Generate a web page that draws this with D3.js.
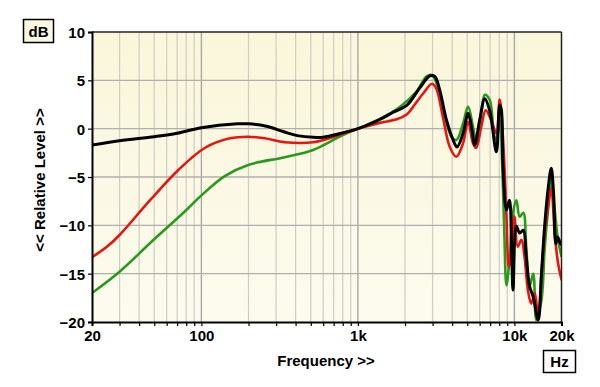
<!DOCTYPE html>
<html><head><meta charset="utf-8">
<script src="https://cdn.jsdelivr.net/npm/d3@7"></script>
<style>html,body{margin:0;padding:0;background:#fff;}svg{display:block;}</style>
</head><body>
<svg id="c" width="600" height="387"></svg>
<script>
// ---- data ----
const xTickValues = [20, 100, 1000, 10000, 20000];
const xTickLabels = ["20", "100", "1k", "10k", "20k"];
const yTickValues = [-20, -15, -10, -5, 0, 5, 10];

const greenFreq = [20,30,48,78,100,141,199,341,518,767,1000,1380,1870,2360,2740,2970,3240,3600,3960,4260,4700,5060,5440,5700,6140,6470,6950,7500,7900,8100,8340,8600,8900,9300,9800,10300,10800,11400,11900,12500,13200,13800,14900,15600,16400,17200,18100,19000,20000];
const greenDb = [-17.0,-14.8,-11.7,-8.6,-6.9,-4.9,-3.75,-2.95,-2.2,-0.83,0.0,1.0,2.3,3.8,5.4,5.55,4.35,1.24,-0.83,-1.17,0.55,2.3,0.2,-1.17,1.6,3.5,3.0,-1.17,-0.13,0.9,-3.2,-10.1,-16.2,-13.6,-8.7,-7.4,-9.1,-8.7,-12.2,-16.3,-15,-19.8,-17.7,-12.5,-8.4,-5.3,-8.4,-11.5,-13.2];

const redFreq = [20,25,30,47,71,105,152,199,254,341,518,760,1000,1380,1770,2060,2260,2620,2970,3160,3490,3860,4260,4700,5060,5440,5700,6140,6560,7100,7670,8060,8460,8900,9200,9600,10000,10500,11100,11600,12200,12800,13500,14200,14900,15600,16400,17200,18100,19000,20000];
const redDb = [-13.3,-12.2,-11,-7.4,-4.3,-2.0,-1.0,-0.83,-1.0,-1.4,-1.4,-0.65,0.0,0.6,0.97,1.5,2.3,3.66,4.65,4.2,1.24,-1.86,-2.9,-1.5,0.72,-1.5,-2.0,0.2,1.9,0.9,-0.48,3.0,-1.0,-9.1,-14.3,-12.2,-9.1,-12.2,-11.5,-13.2,-16.7,-18.1,-17.0,-19.4,-15,-10.8,-8.1,-6.2,-10.8,-13.9,-15.6];

const blackFreq = [20,30,50,70,100,170,200,260,340,410,520,600,770,1000,1380,1680,2050,2480,2880,3100,3330,3680,4060,4300,4700,5060,5320,5580,6000,6470,6950,7670,8060,8260,8460,8900,9300,9600,9800,10300,10800,11400,11900,12500,13200,14200,14900,15600,16400,17200,17800,18400,18900,19700,20000];
const blackDb = [-1.7,-1.24,-0.83,-0.48,0.1,0.5,0.5,0.25,-0.35,-0.72,-0.9,-0.88,-0.5,0.0,0.95,1.7,2.4,4.2,5.45,5.4,4.0,0.9,-1.17,-1.9,-0.48,1.6,0.2,-1.7,0.9,3.1,1.9,-2.4,2.45,1.9,-3.9,-8.4,-7.4,-12.5,-16.7,-10.1,-10.8,-10.5,-13.2,-16.3,-17.4,-19.8,-15,-10.1,-6.3,-4.1,-6.7,-11.9,-11.2,-11.9,-12.0];

const seriesList = [
  {freq: greenFreq, db: greenDb, color: "#2a9a1c", width: 2.6},
  {freq: redFreq, db: redDb, color: "#e8150f", width: 2.6},
  {freq: blackFreq, db: blackDb, color: "#000000", width: 3}
];

// ---- layout ----
const L = 92, R = 561.5, T = 32, B = 322;
const svg = d3.select("#c");
const x = d3.scaleLog().domain([20, 20000]).range([L, R]);
const y = d3.scaleLinear().domain([-20, 10]).range([B, T]);

const defs = svg.append("defs");
const grad = defs.append("linearGradient").attr("id","bg").attr("x1",0).attr("y1",0).attr("x2",0).attr("y2",1);
grad.append("stop").attr("offset","0%").attr("stop-color","#faf6da");
grad.append("stop").attr("offset","100%").attr("stop-color","#fcfbee");
defs.append("clipPath").attr("id","clip").append("rect").attr("x",L).attr("y",T).attr("width",R-L).attr("height",B-T);

svg.append("rect").attr("x",L).attr("y",T).attr("width",R-L).attr("height",B-T).attr("fill","url(#bg)");

// grid
const minorTicks = [];
[10,100,1000,10000].forEach(d => { for (let k=1;k<10;k++){ const v=d*k; if (v>=20 && v<=20000) minorTicks.push(v);} });
const majors = [100,1000,10000];
svg.append("g").selectAll("line").data(minorTicks.filter(v=>!majors.includes(v) && v>20 && v<20000)).join("line")
  .attr("x1",d=>x(d)).attr("x2",d=>x(d)).attr("y1",T).attr("y2",B)
  .attr("stroke","#cfcdc6").attr("stroke-width",1.2);
svg.append("g").selectAll("line").data(majors).join("line")
  .attr("x1",d=>x(d)).attr("x2",d=>x(d)).attr("y1",T).attr("y2",B)
  .attr("stroke","#a9a8a8").attr("stroke-width",1.4);
svg.append("g").selectAll("line").data(yTickValues.filter(v=>v>-20 && v<10)).join("line")
  .attr("x1",L).attr("x2",R).attr("y1",d=>y(d)).attr("y2",d=>y(d))
  .attr("stroke","#b0afab").attr("stroke-width",1.3);

// curves
const line = d3.line().x(d=>x(d[0])).y(d=>y(d[1])).curve(d3.curveCatmullRom.alpha(0.5));
const cg = svg.append("g").attr("clip-path","url(#clip)");
seriesList.forEach(s => {
  const pts = s.freq.map((f,i)=>[f, s.db[i]]);
  cg.append("path").attr("d", line(pts)).attr("fill","none")
    .attr("stroke", s.color).attr("stroke-width", s.width)
    .attr("stroke-linejoin","round").attr("stroke-linecap","round");
});

// frame
svg.append("line").attr("x1",L).attr("x2",R).attr("y1",T).attr("y2",T).attr("stroke","#222").attr("stroke-width",1.5);
svg.append("line").attr("x1",R).attr("x2",R).attr("y1",T).attr("y2",B).attr("stroke","#222").attr("stroke-width",1.5);

// axes
const font = "'Liberation Sans', Arial, sans-serif";
const yAxis = d3.axisLeft(y).tickValues(yTickValues).tickSize(4).tickPadding(3).tickFormat(d3.format("d"));
const yg = svg.append("g").attr("transform",`translate(${L},0)`).call(yAxis);
yg.select(".domain").attr("stroke","#000").attr("stroke-width",2);
yg.selectAll(".tick line").attr("stroke","#000").attr("stroke-width",1.2);
yg.selectAll("text").attr("font-family",font).attr("font-weight","bold").attr("font-size",15).attr("fill","#000").attr("dy","0.36em");

const xAxis = d3.axisBottom(x).tickValues(minorTicks).tickSize(4).tickPadding(4)
  .tickFormat(d => { const i = xTickValues.indexOf(d); return i>=0 ? xTickLabels[i] : ""; });
const xg = svg.append("g").attr("transform",`translate(0,${B})`).call(xAxis);
xg.select(".domain").attr("stroke","#000").attr("stroke-width",2);
xg.selectAll(".tick line").attr("stroke","#000").attr("stroke-width",1.2);
xg.selectAll("text").attr("font-family",font).attr("font-weight","bold").attr("font-size",15).attr("fill","#000");

// labels
svg.append("text").attr("x",326).attr("y",366).attr("text-anchor","middle")
  .attr("font-family",font).attr("font-weight","bold").attr("font-size",15).text("Frequency >>");
svg.append("text").attr("transform","translate(45,180) rotate(-90)").attr("text-anchor","middle")
  .attr("font-family",font).attr("font-weight","bold").attr("font-size",15).text("<< Relative Level >>");

// unit boxes
svg.append("rect").attr("x",23.5).attr("y",19.5).attr("width",30).attr("height",23).attr("fill","#fbf8e2").attr("stroke","#000").attr("stroke-width",1.5);
svg.append("text").attr("x",38.5).attr("y",36.5).attr("text-anchor","middle")
  .attr("font-family",font).attr("font-weight","bold").attr("font-size",15).text("dB");
svg.append("rect").attr("x",543.5).attr("y",350.5).attr("width",32).attr("height",22).attr("fill","#ffffff").attr("stroke","#000").attr("stroke-width",1.5);
svg.append("text").attr("x",559.5).attr("y",367).attr("text-anchor","middle")
  .attr("font-family",font).attr("font-weight","bold").attr("font-size",15).text("Hz");
</script>
</body></html>
